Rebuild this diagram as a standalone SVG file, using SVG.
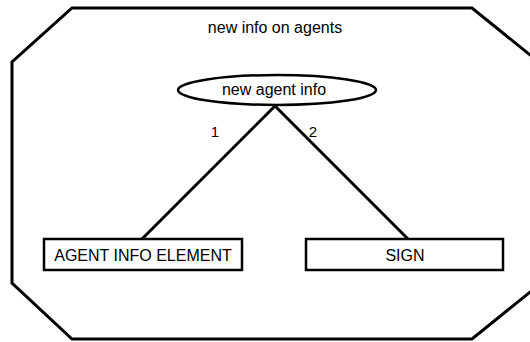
<svg xmlns="http://www.w3.org/2000/svg" width="530" height="342" viewBox="0 0 530 342">
<style>
.t{font-family:"Liberation Sans",Arial,sans-serif;font-size:16px;fill:#000;text-anchor:middle}
.l{font-family:"Liberation Sans",Arial,sans-serif;font-size:15px;fill:#000;text-anchor:middle}
.s{fill:#fff;stroke:#000;stroke-width:2.5}
.c{stroke:#000;stroke-width:3;fill:none}
</style>
<rect width="530" height="342" fill="#fff"/>
<g id="frame">
<polygon points="72,8 472,8 540,63 540,284 472,339 72,339 12,283 12,62" fill="#fff" stroke="#000" stroke-width="3"/>
<text class="t" x="275" y="33">new info on agents</text>
</g>
<g id="connectors">
<line class="c" x1="275" y1="106" x2="142" y2="239"/>
<line class="c" x1="275" y1="106" x2="408" y2="239"/>
<text class="l" x="215" y="137">1</text>
<text class="l" x="313" y="137">2</text>
</g>
<g id="new-agent-info">
<ellipse class="s" cx="277" cy="90" rx="99" ry="15"/>
<text class="t" x="274" y="95">new agent info</text>
</g>
<g id="agent-info-element">
<rect class="s" x="44" y="239" width="198" height="31"/>
<text class="t" x="143" y="261">AGENT INFO ELEMENT</text>
</g>
<g id="sign">
<rect class="s" x="306" y="239" width="197" height="31"/>
<text class="t" x="405" y="261">SIGN</text>
</g>
</svg>
